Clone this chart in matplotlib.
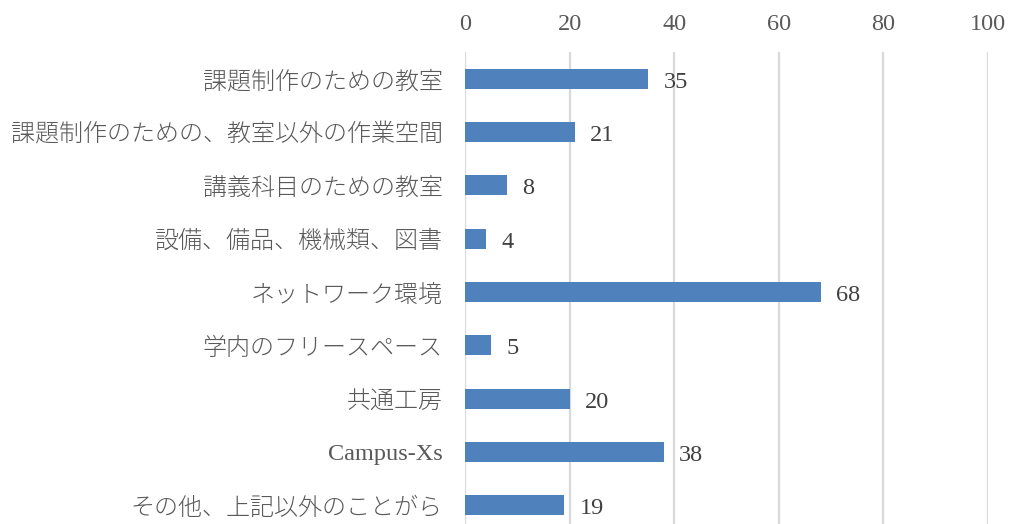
import matplotlib.pyplot as plt
import numpy as np

categories = [
    "課題制作のための教室",
    "課題制作のための、教室以外の作業空間",
    "講義科目のための教室",
    "設備、備品、機械類、図書",
    "ネットワーク環境",
    "学内のフリースペース",
    "共通工房",
    "Campus-Xs",
    "その他、上記以外のことがら",
]
values = [35, 21, 8, 4, 68, 5, 20, 38, 19]
xticks = [0, 20, 40, 60, 80, 100]

plt.rcParams['font.family'] = ['Noto Sans CJK JP', 'DejaVu Sans']

fig = plt.figure(figsize=(10.1, 5.24), dpi=100)
ax = fig.add_axes([0.4604, -0.0153, 0.5178, 0.9160])

y = np.arange(len(categories))
ax.barh(y, values, height=0.375, color='#4f81bd', zorder=3)

# value labels right of bars
for yi, v in zip(y, values):
    ax.annotate(str(v), (v, yi), xytext=(11, -2.5), textcoords='offset points',
                va='center', ha='left', fontsize=17.5, color='#404040',
                family='Liberation Serif')

ax.set_xlim(0, 100)
ax.set_ylim(len(categories) - 0.5, -0.5)
ax.set_xticks(xticks)
ax.xaxis.tick_top()
ax.set_xticklabels([str(t) for t in xticks], family='Liberation Serif',
                   fontsize=17.5, color='#595959')
ax.set_yticks(y)
ax.set_yticklabels(categories, fontsize=17.3, color='#595959', fontweight='light')
# latin-only label is drawn in a serif face in the original
for lbl in ax.get_yticklabels():
    if lbl.get_text().isascii():
        lbl.set_family('Liberation Serif')
        lbl.set_fontsize(17.5)
ax.tick_params(length=0)
ax.tick_params(axis='x', pad=12.5)
ax.tick_params(axis='y', pad=16)
ax.grid(axis='x', color='#d9d9d9', linewidth=1.6, zorder=0)
for s in ax.spines.values():
    s.set_visible(False)

fig.savefig('out.png', dpi=100)
